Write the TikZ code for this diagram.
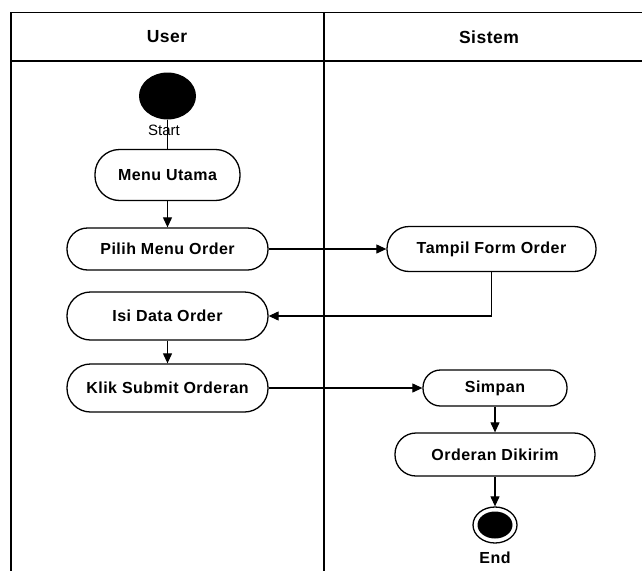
\documentclass[tikz,border=0pt]{standalone}
\usepackage{fontspec}
\setmainfont{Liberation Sans}
\usetikzlibrary{arrows.meta,shapes.geometric}

\newfontfamily\boldspaced[LetterSpace=3]{Liberation Sans}

\tikzset{
  lane/.style={line width=1.8pt, line cap=rect},
  lanetitle/.style={font=\boldspaced\fontsize{17.5}{20}\selectfont\bfseries},
  act/.style={draw, line width=1.3pt, inner sep=0pt,
    font=\boldspaced\fontsize{16}{18}\selectfont\bfseries, align=center},
  flow/.style={line width=1.1pt, -{Triangle[length=10pt,width=9pt]}},
  plain/.style={line width=1.1pt},
}

\begin{document}
\begin{tikzpicture}[x=1pt, y=-1pt]
  \useasboundingbox (0,0) rectangle (642,570);

  % swimlane frame
  \coordinate (tl) at (11,12.5);
  \coordinate (tr) at (642,12.5);
  \coordinate (hl) at (11,61);
  \coordinate (hr) at (642,61);
  \coordinate (bl) at (11,570);
  \coordinate (dt) at (324,12.5);
  \coordinate (db) at (324,570);
  \draw[lane] (tr) -- (tl) -- (bl);
  \draw[lane] (hl) -- (hr);
  \draw[lane] (dt) -- (db);

  \node[lanetitle] (userlane) at (167,37) {User};
  \node[lanetitle] (sislane) at (489,37) {Sistem};

  % start point
  \node[ellipse, fill=black, minimum width=57pt, minimum height=47pt, inner sep=0pt] (start) at (167.5,96) {};
  \node[font=\fontsize{15}{17}\selectfont] (startlbl) at (164,130) {Start};

  % activities, user lane
  \node[act, rounded corners=24.5pt, minimum width=145pt, minimum height=51pt] (menu) at (167.5,175) {Menu Utama};
  \node[act, rounded corners=20.5pt, minimum width=201pt, minimum height=42pt] (pilih) at (167.5,249) {Pilih Menu Order};
  \node[act, rounded corners=23.5pt, minimum width=201pt, minimum height=48pt] (isi) at (167.5,316) {Isi Data Order};
  \node[act, rounded corners=23.5pt, minimum width=201pt, minimum height=48pt] (klik) at (167.5,388) {Klik Submit Orderan};

  % activities, system lane
  \node[act, rounded corners=22pt, minimum width=209pt, minimum height=45pt] (tampil) at (491.5,249) {Tampil Form Order};
  \node[act, rounded corners=17.5pt, minimum width=144pt, minimum height=36pt] (simpan) at (495,388) {Simpan};
  \node[act, rounded corners=21pt, minimum width=200pt, minimum height=43pt] (kirim) at (495,454.5) {Orderan Dikirim};

  % end point
  \node[ellipse, draw, line width=1.3pt, fill=white, minimum width=44pt, minimum height=36pt, inner sep=0pt] (final) at (495,525) {};
  \node[ellipse, fill=black, minimum width=35pt, minimum height=27pt, inner sep=0pt] (finaldot) at (final.center) {};
  \node[font=\boldspaced\fontsize{16}{18}\selectfont\bfseries] (endlbl) at (495,558) {End};

  % flows
  \draw[plain] (start.south) -- (menu.north);
  \draw[flow] (menu) -- (pilih);
  \draw[flow] (pilih) -- (tampil);
  \draw[flow] (tampil.south) |- (isi.east);
  \draw[flow] (isi) -- (klik);
  \draw[flow] (klik) -- (simpan);
  \draw[flow] (simpan) -- (kirim);
  \draw[flow] (kirim) -- (final);
\end{tikzpicture}
\end{document}
